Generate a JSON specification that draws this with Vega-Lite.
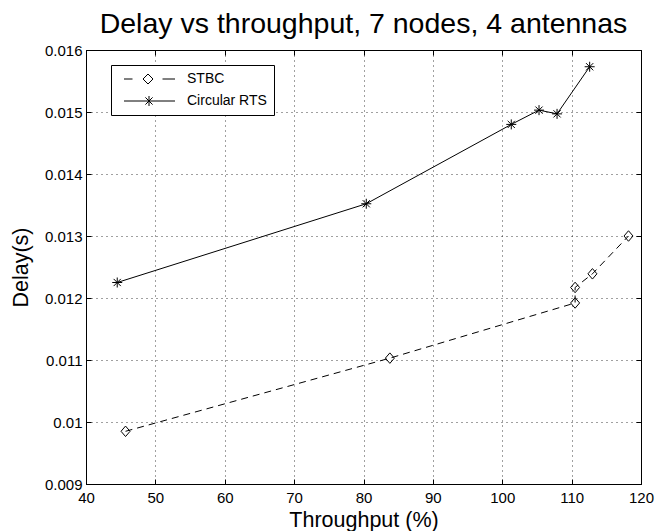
{
  "$schema": "https://vega.github.io/schema/vega-lite/v6.json",
  "width": 555,
  "height": 434,
  "autosize": {"type": "none"},
  "padding": {"left": 86, "top": 50, "right": 16, "bottom": 47},
  "title": {"text": "Delay vs throughput, 7 nodes, 4 antennas", "fontSize": 28.5, "fontWeight": "normal", "anchor": "middle", "offset": 5, "color": "black"},
  "data": {
    "values": [
      {"series": "STBC", "throughput": 45.7, "delay": 0.00985, "ord": 1},
      {"series": "STBC", "throughput": 83.8, "delay": 0.01103, "ord": 2},
      {"series": "STBC", "throughput": 110.5, "delay": 0.01192, "ord": 3},
      {"series": "STBC", "throughput": 110.5, "delay": 0.01217, "ord": 4},
      {"series": "STBC", "throughput": 113.0, "delay": 0.01239, "ord": 5},
      {"series": "STBC", "throughput": 118.2, "delay": 0.01300, "ord": 6},
      {"series": "Circular RTS", "throughput": 44.5, "delay": 0.01225, "ord": 1},
      {"series": "Circular RTS", "throughput": 80.4, "delay": 0.01352, "ord": 2},
      {"series": "Circular RTS", "throughput": 101.3, "delay": 0.01480, "ord": 3},
      {"series": "Circular RTS", "throughput": 105.3, "delay": 0.01503, "ord": 4},
      {"series": "Circular RTS", "throughput": 107.9, "delay": 0.01497, "ord": 5},
      {"series": "Circular RTS", "throughput": 112.6, "delay": 0.01573, "ord": 6}
    ]
  },
  "layer": [
    {
      "transform": [{"filter": "datum.series === 'STBC'"}],
      "mark": {"type": "line", "color": "black", "strokeWidth": 1, "strokeDash": [7, 5]},
      "encoding": {
        "x": {"field": "throughput", "type": "quantitative", "scale": {"domain": [40, 120], "nice": false, "zero": false},
              "axis": {"orient": "top", "labels": false, "title": null, "grid": false, "domain": false, "values": [40,50,60,70,80,90,100,110,120]}},
        "y": {"field": "delay", "type": "quantitative", "scale": {"domain": [0.009, 0.016], "nice": false, "zero": false},
              "axis": {"orient": "right", "labels": false, "title": null, "grid": false, "domain": false, "values": [0.009,0.010,0.011,0.012,0.013,0.014,0.015,0.016]}},
        "order": {"field": "ord", "type": "quantitative"}
      }
    },
    {
      "transform": [{"filter": "datum.series === 'Circular RTS'"}],
      "mark": {"type": "line", "color": "black", "strokeWidth": 1},
      "encoding": {
        "x": {"field": "throughput", "type": "quantitative", "axis": null},
        "y": {"field": "delay", "type": "quantitative", "axis": null},
        "order": {"field": "ord", "type": "quantitative"}
      }
    },
    {
      "transform": [{"filter": "datum.series === 'STBC'"}],
      "mark": {"type": "point", "filled": false, "color": "black", "strokeWidth": 1, "size": 100, "opacity": 1, "shape": "M0,-1.05L0.9,0L0,1.05L-0.9,0Z"},
      "encoding": {
        "x": {"field": "throughput", "type": "quantitative",
              "axis": {"orient": "bottom", "title": "Throughput (%)", "values": [40,50,60,70,80,90,100,110,120], "grid": true}},
        "y": {"field": "delay", "type": "quantitative",
              "axis": {"orient": "left", "title": "Delay(s)", "values": [0.009,0.010,0.011,0.012,0.013,0.014,0.015,0.016], "format": ".3~f", "grid": true}}
      }
    },
    {
      "transform": [{"filter": "datum.series === 'Circular RTS'"}],
      "mark": {"type": "point", "filled": false, "color": "black", "strokeWidth": 1, "size": 100, "opacity": 1, "shape": "M0,-1V1M-1,0H1M-0.72,-0.72L0.72,0.72M-0.72,0.72L0.72,-0.72"},
      "encoding": {
        "x": {"field": "throughput", "type": "quantitative", "axis": null},
        "y": {"field": "delay", "type": "quantitative", "axis": null}
      }
    },
    {
      "mark": {"type": "point", "filled": false, "color": "black", "strokeWidth": 1, "size": 100, "opacity": 0},
      "encoding": {
        "x": {"field": "throughput", "type": "quantitative", "axis": null},
        "y": {"field": "delay", "type": "quantitative", "axis": null},
        "shape": {
          "field": "series", "type": "nominal",
          "scale": {"domain": ["STBC", "Circular RTS"], "range": ["M-5,0H-3.3M2.7,0H5.2M-0.2,-1L0.8,0L-0.2,1L-1.2,0Z", "M-5,0H5.2M0,-1V1M-0.72,-0.72L0.72,0.72M-0.72,0.72L0.72,-0.72"]},
          "legend": {
            "orient": "none", "legendX": 25, "legendY": 15, "title": null,
            "strokeColor": "black", "fillColor": "white", "padding": 7,
            "labelFontSize": 14, "labelColor": "black",
            "symbolOffset": 24, "labelOffset": 31, "rowPadding": 8,
            "symbolStrokeWidth": 1, "symbolSize": 100, "symbolStrokeColor": "black", "symbolFillColor": "transparent", "symbolOpacity": 1
          }
        }
      }
    }
  ],
  "config": {
    "font": "Liberation Sans",
    "view": {"stroke": "black", "strokeWidth": 1},
    "axis": {
      "domainColor": "black", "domainWidth": 1, "labelFlush": false,
      "tickColor": "black", "tickSize": -5, "tickWidth": 1,
      "labelColor": "black", "labelFontSize": 15, "labelFont": "Liberation Sans",
      "titleColor": "black", "titleFontSize": 21.5, "titleFontWeight": "normal", "titleFont": "Liberation Sans",
      "gridColor": "black", "gridDash": [1, 4], "gridWidth": 1, "gridOpacity": 0.75
    },
    "axisBottom": {"labelPadding": 11, "titleY": 42, "titleBaseline": "alphabetic"},
    "axisLeft": {"labelPadding": 9, "titleX": -59, "titleBaseline": "alphabetic"},
    "legend": {"labelFont": "Liberation Sans"}
  }
}
